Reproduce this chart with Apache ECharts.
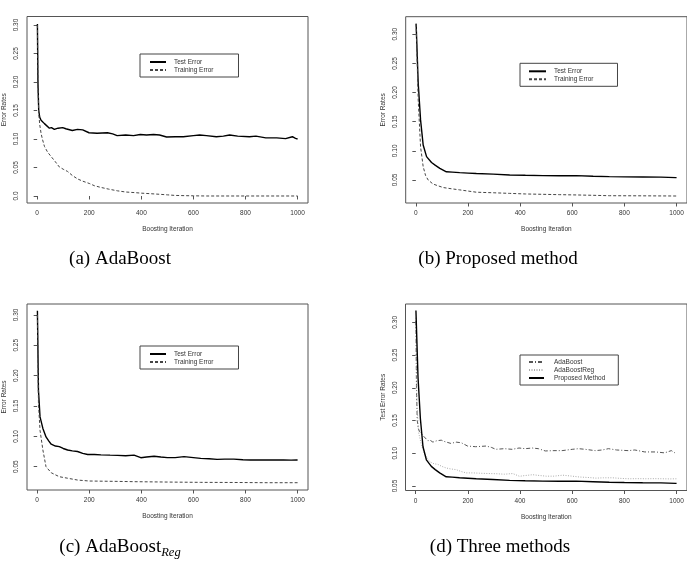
<!DOCTYPE html>
<html>
<head>
<meta charset="utf-8">
<script src="https://cdn.jsdelivr.net/npm/echarts@6/dist/echarts.min.js"></script>
<style>
  html, body { margin: 0; padding: 0; background: #fff; }
  #chart { width: 687px; height: 561px; }
</style>
</head>
<body>
<div id="chart"></div>
<script>
// (a) AdaBoost
var adaTestIter = [1, 3, 6, 10, 15, 20, 28, 35, 47, 55, 66, 80, 98, 110, 117, 135, 155, 175, 199, 230, 270, 290, 307, 340, 370, 396, 420, 447, 470, 497, 530, 561, 600, 624, 650, 688, 715, 739, 770, 815, 840, 878, 920, 954, 980, 992, 1000];
var adaTest = [0.302, 0.200, 0.150, 0.138, 0.133, 0.130, 0.127, 0.124, 0.119, 0.120, 0.117, 0.119, 0.120, 0.118, 0.116, 0.115, 0.117, 0.116, 0.111, 0.110, 0.111, 0.109, 0.106, 0.107, 0.106, 0.108, 0.107, 0.108, 0.107, 0.1035, 0.104, 0.104, 0.106, 0.107, 0.106, 0.104, 0.105, 0.107, 0.105, 0.104, 0.105, 0.102, 0.102, 0.1006, 0.104, 0.101, 0.100];
var adaTrainIter = [1, 3, 6, 10, 15, 20, 28, 40, 54, 70, 85, 100, 117, 135, 155, 175, 200, 220, 245, 275, 309, 340, 372, 400, 436, 470, 500, 530, 564, 600, 650, 1000];
var adaTrain = [0.300, 0.200, 0.145, 0.125, 0.110, 0.100, 0.087, 0.077, 0.069, 0.060, 0.051, 0.047, 0.043, 0.036, 0.030, 0.026, 0.022, 0.018, 0.015, 0.012, 0.009, 0.007, 0.006, 0.005, 0.004, 0.003, 0.002, 0.001, 0.0006, 0.0003, 0.0, 0.0];

// (b) Proposed method
var propTestIter = [1, 9, 18, 28, 41, 60, 75, 92, 117, 140, 168, 200, 232, 296, 360, 420, 487, 550, 615, 680, 742, 800, 870, 940, 997, 1000];
var propTest = [0.318, 0.216, 0.153, 0.110, 0.090, 0.080, 0.075, 0.070, 0.064, 0.0635, 0.0626, 0.0618, 0.061, 0.060, 0.0586, 0.058, 0.0574, 0.0572, 0.0574, 0.0565, 0.0557, 0.0553, 0.055, 0.0548, 0.054, 0.054];
var propTrainIter = [1, 9, 18, 28, 37, 47, 66, 85, 105, 135, 168, 200, 232, 300, 360, 420, 487, 550, 615, 680, 742, 870, 1000];
var propTrain = [0.318, 0.187, 0.107, 0.073, 0.058, 0.050, 0.043, 0.040, 0.037, 0.035, 0.033, 0.031, 0.029, 0.028, 0.027, 0.026, 0.0254, 0.0248, 0.0243, 0.0237, 0.023, 0.0228, 0.0225];

// (c) AdaBoost_Reg
var regTestIter = [1, 5, 11, 22, 34, 45, 54, 70, 85, 100, 117, 135, 155, 175, 194, 220, 245, 280, 309, 340, 372, 398, 420, 449, 475, 500, 530, 564, 600, 628, 660, 691, 720, 755, 790, 819, 850, 883, 915, 946, 975, 997, 1000];
var regTest = [0.307, 0.176, 0.132, 0.113, 0.099, 0.092, 0.087, 0.084, 0.083, 0.080, 0.0775, 0.076, 0.075, 0.072, 0.070, 0.070, 0.0695, 0.069, 0.0687, 0.068, 0.069, 0.0648, 0.066, 0.0672, 0.066, 0.065, 0.065, 0.0665, 0.065, 0.0637, 0.063, 0.062, 0.0625, 0.0625, 0.0615, 0.061, 0.0612, 0.061, 0.0612, 0.061, 0.0608, 0.061, 0.061];
var regTrainIter = [1, 5, 11, 22, 34, 54, 85, 117, 155, 200, 309, 372, 500, 628, 755, 883, 1000];
var regTrain = [0.300, 0.154, 0.110, 0.0775, 0.050, 0.040, 0.0335, 0.031, 0.028, 0.0264, 0.0258, 0.0253, 0.0247, 0.0242, 0.024, 0.0236, 0.0236];

var xTicks = [0, 200, 400, 600, 800, 1000];
var yTicksA = [0, 0.05, 0.10, 0.15, 0.20, 0.25, 0.30];
var yTicks = [0.05, 0.10, 0.15, 0.20, 0.25, 0.30];

function pairs(xs, ys) {
  return xs.map(function (x, i) { return [x, ys[i]]; });
}

var chart = echarts.init(document.getElementById('chart'));
var font = 'Liberation Sans';
var txt = '#333';
var ax = '#555';

function xAxis(i) {
  return {
    type: 'value', gridIndex: i, min: -39, max: 1040,
    name: 'Boosting Iteration', nameLocation: 'middle', nameGap: 23,
    nameTextStyle: { fontFamily: font, fontSize: 6.5, color: txt },
    axisLine: { show: false },
    axisTick: { show: true, length: 3.5, customValues: xTicks, lineStyle: { color: ax } },
    axisLabel: {
      customValues: xTicks, margin: 7, fontFamily: font, fontSize: 6.5, color: txt,
      formatter: function (v) { return String(v); }
    },
    splitLine: { show: false }
  };
}

function yAxis(i, min, max, ticks, name) {
  return {
    type: 'value', gridIndex: i, min: min, max: max,
    name: name, nameLocation: 'middle', nameGap: 19, nameRotate: 90,
    nameTextStyle: { fontFamily: font, fontSize: 6.5, color: txt },
    axisLine: { show: false },
    axisTick: { show: true, length: 3.5, customValues: ticks, lineStyle: { color: ax } },
    axisLabel: {
      customValues: ticks, margin: 7, rotate: 90, fontFamily: font, fontSize: 6.5, color: txt,
      formatter: function (v) { return v === 0 ? '0.0' : v.toFixed(2); }
    },
    splitLine: { show: false }
  };
}

function grid(left, top, height) {
  return { left: left, top: top, width: 282, height: height, show: true, borderColor: ax, borderWidth: 1, backgroundColor: 'transparent' };
}

function legend(left, top, names, padding, textPad, iconW) {
  return {
    left: left, top: top, orient: 'vertical', data: names, selectedMode: false,
    itemWidth: iconW, itemHeight: 7, itemGap: 1, padding: padding,
    borderColor: '#444', borderWidth: 1, backgroundColor: '#fff',
    itemStyle: { opacity: 0, borderWidth: 0 },
    textStyle: { fontFamily: font, fontSize: 6.5, color: txt, padding: [0, 0, 0, textPad] }
  };
}

var solid = { color: '#000', width: 1.4, type: 'solid' };
var dashed = { color: '#444', width: 1, type: [3, 2] };

function line(name, xi, data, style) {
  return {
    name: name, type: 'line', xAxisIndex: xi, yAxisIndex: xi, data: data,
    symbol: 'none', silent: true, lineStyle: style, itemStyle: { color: style.color }
  };
}

var captionFont = 'Liberation Serif';

chart.setOption({
  animation: false,
  grid: [grid(26, 16.5, 186.5), grid(405.7, 16.7, 186.3), grid(26, 304, 186), grid(405.5, 304, 186.5)],
  xAxis: [xAxis(0), xAxis(1), xAxis(2), xAxis(3)],
  yAxis: [
    yAxis(0, -0.0123, 0.315, yTicksA, 'Error Rates'),
    yAxis(1, 0.0105, 0.330, yTicks, 'Error Rates'),
    yAxis(2, 0.0116, 0.318, yTicks, 'Error Rates'),
    yAxis(3, 0.0431, 0.328, yTicks, 'Test Error Rates')
  ],
  legend: [
    legend(140, 54, ['Test Error', 'Training Error'], [4.5, 25, 3.5, 9], 3, 16),
    legend(520, 63.3, ['Test Error', 'Training Error'], [4.5, 24, 3.5, 8], 3, 17),
    legend(140, 346, ['Test Error', 'Training Error'], [4.5, 25, 3.5, 9], 3, 16),
    legend(520, 355, ['AdaBoost', 'AdaBoostReg', 'Proposed Method'], [3.5, 13, 3.5, 8], 5, 15)
  ],
  graphic: [
    { type: 'text', x: 120, y: 259, style: { text: '(a) AdaBoost', font: '19px "' + captionFont + '"', fill: '#000', align: 'center', verticalAlign: 'middle' } },
    { type: 'text', x: 498, y: 259, style: { text: '(b) Proposed method', font: '19px "' + captionFont + '"', fill: '#000', align: 'center', verticalAlign: 'middle' } },
    { type: 'text', x: 120, y: 547, style: {
      text: '{m|(c) AdaBoost}{s|Reg}', align: 'center', verticalAlign: 'middle',
      rich: {
        m: { fontFamily: captionFont, fontSize: 19, color: '#000' },
        s: { fontFamily: captionFont, fontSize: 12.5, fontStyle: 'italic', color: '#000', padding: [11, 0, 0, 0] }
      }
    } },
    { type: 'text', x: 500, y: 547, style: { text: '(d) Three methods', font: '19px "' + captionFont + '"', fill: '#000', align: 'center', verticalAlign: 'middle' } }
  ],
  series: [
    line('Test Error', 0, pairs(adaTestIter, adaTest), solid),
    line('Training Error', 0, pairs(adaTrainIter, adaTrain), dashed),
    line('Test Error', 1, pairs(propTestIter, propTest), solid),
    line('Training Error', 1, pairs(propTrainIter, propTrain), dashed),
    line('Test Error', 2, pairs(regTestIter, regTest), solid),
    line('Training Error', 2, pairs(regTrainIter, regTrain), dashed),
    line('AdaBoost', 3, pairs(adaTestIter, adaTest), { color: '#555', width: 1, type: [4, 2, 1, 2] }),
    line('AdaBoostReg', 3, pairs(regTestIter, regTest), { color: '#aaa', width: 1, type: [1, 1.5] }),
    line('Proposed Method', 3, pairs(propTestIter, propTest), solid)
  ]
});
</script>
</body>
</html>
